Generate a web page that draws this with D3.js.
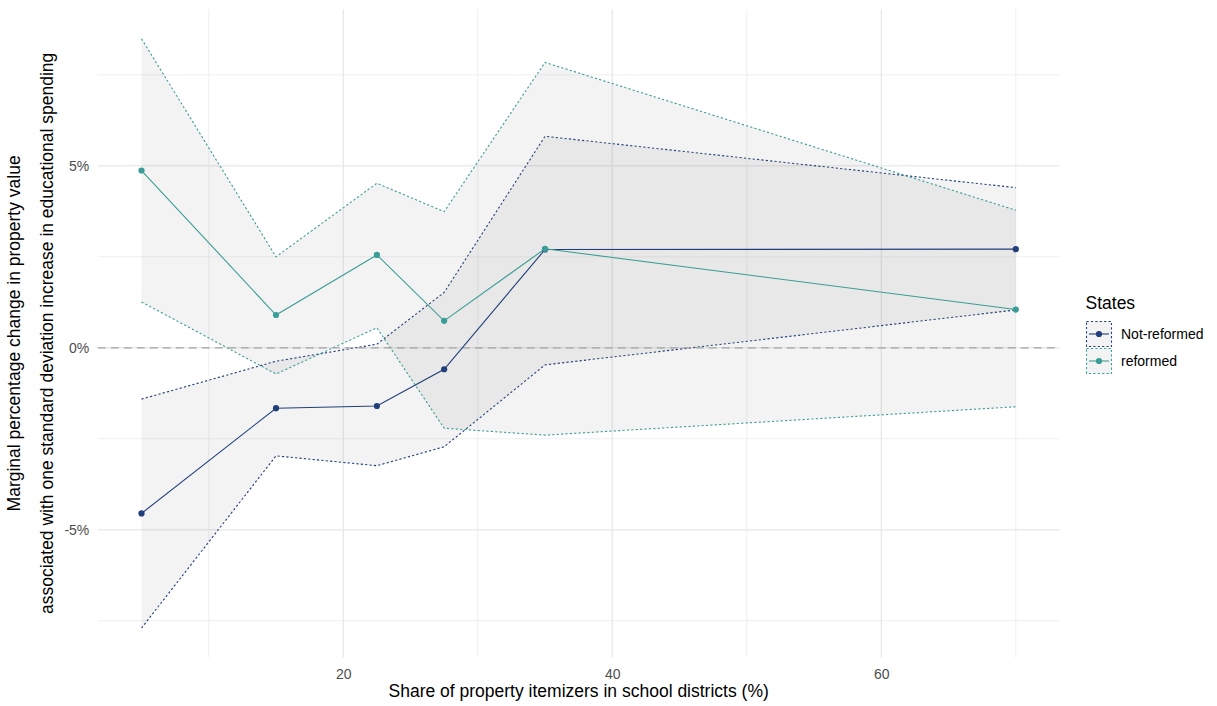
<!DOCTYPE html>
<html>
<head>
<meta charset="utf-8">
<script src="https://cdn.jsdelivr.net/npm/d3@7"></script>
<style>
  html, body { margin: 0; padding: 0; background: #ffffff; }
  svg { display: block; font-family: "Liberation Sans", Arial, sans-serif; }
</style>
</head>
<body>
<svg id="chart" width="1217" height="706"></svg>
<script>
// Share of property itemizers (%) at which the effect was estimated
const itemizerShare = [5, 15, 22.5, 27.5, 35, 70];

// Marginal % change in property value, with confidence bounds
const notReformedEst   = [-4.55, -1.66, -1.60, -0.59, 2.70, 2.71];
const notReformedLower = [-7.70, -2.97, -3.24, -2.72, -0.47, 1.04];
const notReformedUpper = [-1.41, -0.37, 0.10, 1.52, 5.81, 4.40];

const reformedEst   = [4.87, 0.90, 2.55, 0.74, 2.72, 1.05];
const reformedLower = [1.26, -0.72, 0.55, -2.21, -2.40, -1.62];
const reformedUpper = [8.49, 2.50, 4.52, 3.74, 7.84, 3.78];

const stateGroups = ["Not-reformed", "reformed"];
const groupColors = ["#213f7a", "#3b9e96"];

const xMajorTicks = [20, 40, 60];
const xMinorTicks = [10, 30, 50, 70];
const yMajorTicks = [-5, 0, 5];
const yMinorTicks = [-7.5, -2.5, 2.5, 7.5];
const yTickLabels = ["-5%", "0%", "5%"];

const series = [
  { name: stateGroups[0], color: groupColors[0], est: notReformedEst, lo: notReformedLower, hi: notReformedUpper },
  { name: stateGroups[1], color: groupColors[1], est: reformedEst, lo: reformedLower, hi: reformedUpper }
].map(s => ({
  ...s,
  rows: itemizerShare.map((x, i) => ({ x, est: s.est[i], lo: s.lo[i], hi: s.hi[i] }))
}));

const svg = d3.select("#chart");
const panel = { left: 97.8, right: 1059.5, top: 9.3, bottom: 657.5 };
const tickFont = "14px", titleFont = "17.5px";

// ggplot-style 5% expansion around the data range
function expand(ext, f = 0.05) {
  const d = (ext[1] - ext[0]) * f;
  return [ext[0] - d, ext[1] + d];
}
const xExt = d3.extent(itemizerShare);
const yExt = d3.extent([...notReformedLower, ...notReformedUpper, ...reformedLower, ...reformedUpper,
                        ...notReformedEst, ...reformedEst]);

const x = d3.scaleLinear().domain(expand(xExt)).range([panel.left, panel.right]);
const y = d3.scaleLinear().domain(expand(yExt)).range([panel.bottom, panel.top]);

// Grid
const grid = svg.append("g");
grid.selectAll(".xminor").data(xMinorTicks).join("line")
  .attr("x1", d => x(d)).attr("x2", d => x(d))
  .attr("y1", panel.top).attr("y2", panel.bottom)
  .attr("stroke", "#ebebeb").attr("stroke-width", 0.8);
grid.selectAll(".yminor").data(yMinorTicks).join("line")
  .attr("y1", d => y(d)).attr("y2", d => y(d))
  .attr("x1", panel.left).attr("x2", panel.right)
  .attr("stroke", "#ebebeb").attr("stroke-width", 0.8);
grid.selectAll(".xmajor").data(xMajorTicks).join("line")
  .attr("x1", d => x(d)).attr("x2", d => x(d))
  .attr("y1", panel.top).attr("y2", panel.bottom)
  .attr("stroke", "#ebebeb").attr("stroke-width", 1.5);
grid.selectAll(".ymajor").data(yMajorTicks).join("line")
  .attr("y1", d => y(d)).attr("y2", d => y(d))
  .attr("x1", panel.left).attr("x2", panel.right)
  .attr("stroke", "#ebebeb").attr("stroke-width", 1.5);

// Confidence ribbons
const area = d3.area().x(d => x(d.x)).y0(d => y(d.lo)).y1(d => y(d.hi));
const loLine = d3.line().x(d => x(d.x)).y(d => y(d.lo));
const hiLine = d3.line().x(d => x(d.x)).y(d => y(d.hi));
const ribbons = svg.append("g");
series.forEach(s => {
  ribbons.append("path").datum(s.rows).attr("d", area)
    .attr("fill", "#7f7f7f").attr("fill-opacity", 0.095);
  [loLine, hiLine].forEach(gen => {
    ribbons.append("path").datum(s.rows).attr("d", gen)
      .attr("fill", "none").attr("stroke", s.color).attr("stroke-width", 1.1)
      .attr("stroke-dasharray", "2.2,2.2");
  });
});

// Zero reference line
svg.append("line")
  .attr("x1", panel.left).attr("x2", panel.right)
  .attr("y1", y(0)).attr("y2", y(0))
  .attr("stroke", "#a3a3a3").attr("stroke-width", 1.3)
  .attr("stroke-dasharray", "8,5");

// Estimate lines and points
const estLine = d3.line().x(d => x(d.x)).y(d => y(d.est));
const marks = svg.append("g");
series.forEach(s => {
  marks.append("path").datum(s.rows).attr("d", estLine)
    .attr("fill", "none").attr("stroke", s.color).attr("stroke-width", 1.1);
});
series.forEach(s => {
  marks.selectAll(null).data(s.rows).join("circle")
    .attr("cx", d => x(d.x)).attr("cy", d => y(d.est)).attr("r", 3.1)
    .attr("fill", s.color);
});

// Axes (labels only, no axis lines, as in a minimal theme)
const xAxis = svg.append("g").attr("transform", `translate(0,${panel.bottom})`)
  .call(d3.axisBottom(x).tickValues(xMajorTicks).tickSize(0).tickPadding(11.5));
const yAxis = svg.append("g").attr("transform", `translate(${panel.left},0)`)
  .call(d3.axisLeft(y).tickValues(yMajorTicks).tickSize(0).tickPadding(8.5)
    .tickFormat((d, i) => yTickLabels[i]));
[xAxis, yAxis].forEach(a => {
  a.select(".domain").remove();
  a.selectAll("text").attr("fill", "#4d4d4d").attr("font-size", tickFont)
    .attr("font-family", "'Liberation Sans', Arial, sans-serif");
});

// Axis titles
svg.append("text")
  .attr("x", (panel.left + panel.right) / 2).attr("y", 697)
  .attr("text-anchor", "middle").attr("font-size", titleFont).attr("fill", "#000")
  .text("Share of property itemizers in school districts (%)");

const yMid = (panel.top + panel.bottom) / 2;
svg.append("text")
  .attr("transform", `translate(20,${yMid}) rotate(-90)`)
  .attr("text-anchor", "middle").attr("font-size", titleFont).attr("fill", "#000")
  .text("Marginal percentage change in property value");
svg.append("text")
  .attr("transform", `translate(53,${yMid}) rotate(-90)`)
  .attr("text-anchor", "middle").attr("font-size", titleFont).attr("fill", "#000")
  .text("associated with one standard deviation increase in educational spending");

// Legend
const legend = svg.append("g").attr("transform", "translate(1086,0)");
legend.append("text").attr("x", -0.5).attr("y", 309)
  .attr("font-size", titleFont).attr("fill", "#000").text("States");
const keyW = 26, keyH = 26, keyTop = 321;
series.forEach((s, i) => {
  const ky = keyTop + i * (keyH + 1);
  const g = legend.append("g").attr("transform", `translate(0,${ky})`);
  g.append("rect").attr("x", 0.5).attr("y", 0.5).attr("width", keyW - 1).attr("height", keyH - 1)
    .attr("fill", "#7f7f7f").attr("fill-opacity", 0.095)
    .attr("stroke", s.color).attr("stroke-width", 1.1).attr("stroke-dasharray", "2.2,2.2");
  g.append("line").attr("x1", 3).attr("x2", keyW - 3).attr("y1", keyH / 2).attr("y2", keyH / 2)
    .attr("stroke", s.color).attr("stroke-width", 1.1);
  g.append("circle").attr("cx", keyW / 2).attr("cy", keyH / 2).attr("r", 3.1).attr("fill", s.color);
  g.append("text").attr("x", keyW + 9).attr("y", keyH / 2).attr("dy", "0.36em")
    .attr("font-size", tickFont).attr("fill", "#000").text(s.name);
});
</script>
</body>
</html>
